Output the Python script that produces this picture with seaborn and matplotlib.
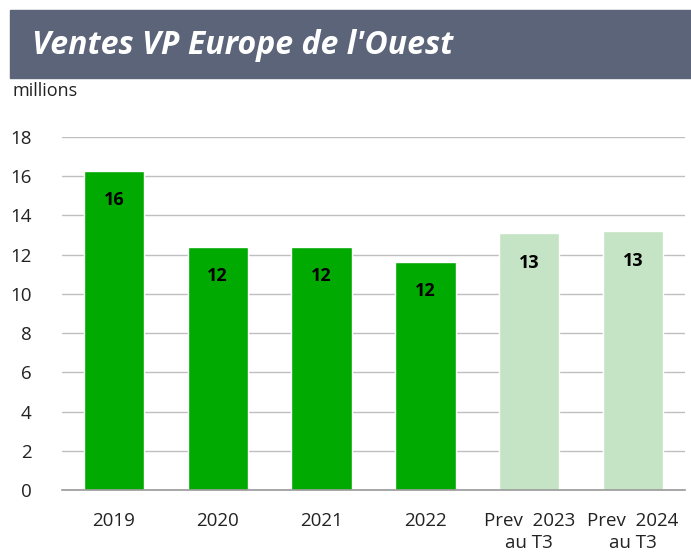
import matplotlib
matplotlib.use("Agg")
import matplotlib.pyplot as plt
import seaborn as sns
import pandas as pd

categories = ["2019", "2020", "2021", "2022", "Prev  2023\nau T3", "Prev  2024\nau T3"]
ventes = [16.27, 12.4, 12.4, 11.63, 13.1, 13.2]
labels = ["16", "12", "12", "12", "13", "13"]
colors = ["#00AA00", "#00AA00", "#00AA00", "#00AA00", "#C5E3C5", "#C5E3C5"]

sns.set_theme(style="white")
plt.rcParams["font.family"] = ["Open Sans", "DejaVu Sans"]

df = pd.DataFrame({"cat": categories, "val": ventes})

fig = plt.figure(figsize=(6.91, 5.58), dpi=100)
ax = fig.add_axes([62 / 691, 1 - 490 / 558, 623 / 691, 353 / 558])

sns.barplot(data=df, x="cat", y="val", hue="cat", palette=colors,
            legend=False, width=0.58, ax=ax, saturation=1)

ax.set_ylim(0, 18)
ax.set_xlim(-0.5, 5.5)
ax.set_yticks(range(0, 19, 2))
ax.yaxis.grid(True, color="#BFBFBF", linewidth=1)
ax.set_axisbelow(True)
for s in ["top", "right", "left"]:
    ax.spines[s].set_visible(False)
ax.spines["bottom"].set_color("#999999")
ax.spines["bottom"].set_linewidth(1.2)
ax.tick_params(axis="both", length=0, labelsize=13.5, colors="#222222")
ax.tick_params(axis="y", pad=22)
ax.tick_params(axis="x", pad=16)
for t in ax.get_xticklabels():
    t.set_linespacing(1.3)
ax.set_xlabel("")
ax.set_ylabel("")

for i, (v, lab) in enumerate(zip(ventes, labels)):
    ax.text(i, v - 1.5, lab, ha="center", va="center", fontsize=13,
            fontweight="bold", color="black")

# bandeau titre
fig.patches.append(plt.Rectangle((10 / 691, 1 - 78 / 558), 681 / 691, 68 / 558,
                                 transform=fig.transFigure, color="#5B6478",
                                 zorder=0))
fig.text(32 / 691, 1 - 45 / 558, "Ventes VP Europe de l'Ouest", color="white",
         fontsize=23, fontweight="bold", fontstyle="italic", va="center")
fig.text(12 / 691, 1 - 91 / 558, "millions", fontsize=13, va="center",
         color="#222222")

fig.savefig("out.png", dpi=100)
